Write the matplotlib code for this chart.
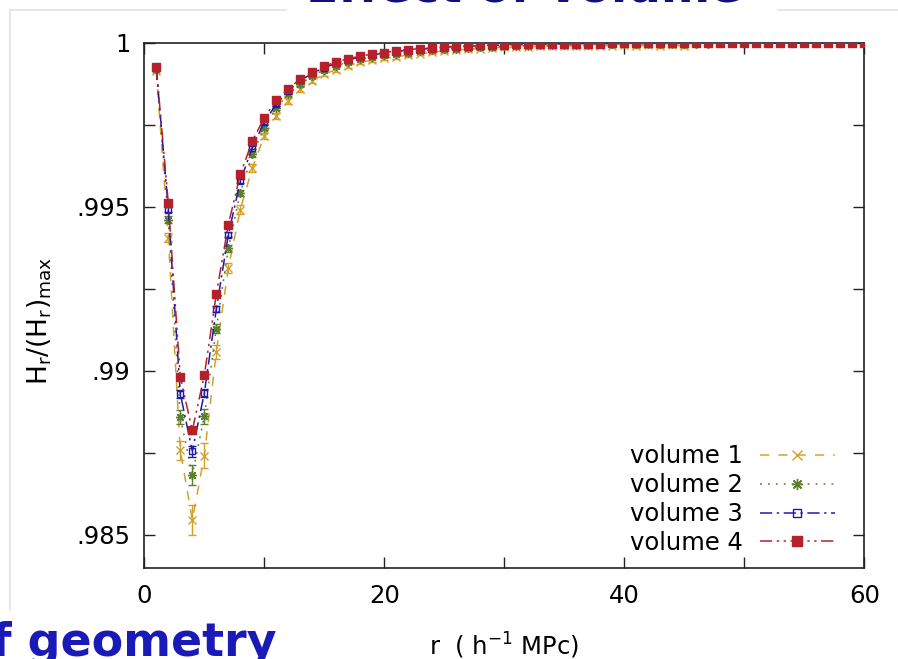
import matplotlib
matplotlib.use("Agg")
import matplotlib.pyplot as plt
from matplotlib.lines import Line2D
import numpy as np

# ---------------- data ----------------
r_all = list(range(1, 61))
r_v1 = list(range(1, 46))

v1 = [0.99915, 0.99406, 0.98757, 0.98545, 0.98741, 0.99058, 0.99313, 0.99492, 0.99619, 0.99716,
      0.99777, 0.99823, 0.99859, 0.99885, 0.99905, 0.99919, 0.99931, 0.99941, 0.99948, 0.99953,
      0.99958, 0.99963, 0.99967, 0.99972, 0.99976, 0.99979, 0.99981, 0.99983, 0.99985, 0.99987,
      0.99988, 0.99989, 0.99990, 0.99990, 0.99991, 0.99991, 0.99992, 0.99992, 0.99992, 0.99993,
      0.99992, 0.99993, 0.99992, 0.99993, 0.99992]
v1_err = [0.00006, 0.00013, 0.00030, 0.00046, 0.00038, 0.00022, 0.00016, 0.00013, 0.00011, 0.00010,
          0.00009, 0.00008, 0.00008, 0.00007, 0.00007, 0.00007, 0.00006, 0.00006, 0.00006, 0.00006,
          0.00006, 0.00005, 0.00005, 0.00005, 0.00005, 0.00005, 0.00005, 0.00005, 0.00005, 0.00005,
          0.00005, 0.00005, 0.00005, 0.00005, 0.00005, 0.00005, 0.00005, 0.00005, 0.00005, 0.00005,
          0.00006, 0.00006, 0.00006, 0.00006, 0.00006]

v2 = [0.99920, 0.99461, 0.98859, 0.98683, 0.98861, 0.99129, 0.99374, 0.99543, 0.99660, 0.99742,
      0.99803, 0.99844, 0.99874, 0.99900, 0.99918, 0.99931, 0.99942, 0.99951, 0.99957, 0.99962,
      0.99967, 0.99971, 0.99975, 0.99978, 0.99981, 0.99983, 0.99985, 0.99987, 0.99988, 0.99990,
      0.99991, 0.99992, 0.99993, 0.99994, 0.99994, 0.99995, 0.99995, 0.99996, 0.99996, 0.99997,
      0.99997, 0.99997, 0.99998, 0.99998, 0.99998, 0.99998, 0.99998, 0.99999, 0.99999, 0.99999,
      0.99999, 0.99999, 0.99999, 0.99999, 0.99999, 1.00000, 1.00000, 1.00000, 1.00000, 1.00000]
v2_err = [0.00005, 0.00011, 0.00020, 0.00030, 0.00022, 0.00015, 0.00011, 0.00009, 0.00008, 0.00007,
          0.00006, 0.00006, 0.00005, 0.00005, 0.00005, 0.00004, 0.00004, 0.00004, 0.00004, 0.00004,
          0.00004, 0.00004, 0.00003, 0.00003, 0.00003, 0.00003, 0.00003, 0.00003, 0.00003, 0.00003,
          0.00003, 0.00003, 0.00003, 0.00003, 0.00003, 0.00003, 0.00003, 0.00003, 0.00003, 0.00003,
          0.00002, 0.00002, 0.00002, 0.00002, 0.00002, 0.00002, 0.00002, 0.00002, 0.00002, 0.00002,
          0.00002, 0.00002, 0.00002, 0.00002, 0.00002, 0.00001, 0.00001, 0.00001, 0.00001, 0.00001]

v3 = [0.99924, 0.99492, 0.98930, 0.98755, 0.98932, 0.99188, 0.99415, 0.99578, 0.99681, 0.99759,
      0.99813, 0.99854, 0.99886, 0.99907, 0.99925, 0.99938, 0.99949, 0.99957, 0.99964, 0.99969,
      0.99974, 0.99978, 0.99981, 0.99984, 0.99987, 0.99989, 0.99990, 0.99992, 0.99993, 0.99994,
      0.99995, 0.99996, 0.99996, 0.99997, 0.99997, 0.99998, 0.99998, 0.99998, 0.99998, 0.99999,
      0.99999, 0.99999, 0.99999, 0.99999, 0.99999, 0.99999, 1.00000, 1.00000, 1.00000, 1.00000,
      1.00000, 1.00000, 1.00000, 1.00000, 1.00000, 1.00000, 1.00000, 1.00000, 1.00000, 1.00000]
v3_err = [0.00004, 0.00007, 0.00012, 0.00017, 0.00012, 0.00009, 0.00007, 0.00006, 0.00005, 0.00005,
          0.00004, 0.00004, 0.00004, 0.00003, 0.00003, 0.00003, 0.00003, 0.00003, 0.00003, 0.00003,
          0.00002, 0.00002, 0.00002, 0.00002, 0.00002, 0.00002, 0.00002, 0.00002, 0.00002, 0.00002,
          0.00002, 0.00002, 0.00002, 0.00002, 0.00002, 0.00001, 0.00001, 0.00001, 0.00001, 0.00001,
          0.00001, 0.00001, 0.00001, 0.00001, 0.00001, 0.00001, 0.00001, 0.00001, 0.00001, 0.00001,
          0.00001, 0.00001, 0.00001, 0.00001, 0.00001, 0.00001, 0.00001, 0.00001, 0.00001, 0.00001]

v4 = [0.99926, 0.99512, 0.98981, 0.98818, 0.98986, 0.99234, 0.99446, 0.99599, 0.99701, 0.99772,
      0.99825, 0.99861, 0.99890, 0.99913, 0.99930, 0.99942, 0.99952, 0.99960, 0.99966, 0.99971,
      0.99976, 0.99980, 0.99983, 0.99985, 0.99988, 0.99990, 0.99991, 0.99993, 0.99994, 0.99995,
      0.99996, 0.99996, 0.99997, 0.99997, 0.99998, 0.99998, 0.99998, 0.99998, 0.99999, 0.99999,
      0.99999, 0.99999, 0.99999, 0.99999, 0.99999, 1.00000, 1.00000, 1.00000, 1.00000, 1.00000,
      1.00000, 1.00000, 1.00000, 1.00000, 1.00000, 1.00000, 1.00000, 1.00000, 1.00000, 1.00000]
v4_err = [0.00003, 0.00005, 0.00009, 0.00011, 0.00009, 0.00007, 0.00005, 0.00004, 0.00004, 0.00003,
          0.00003, 0.00003, 0.00002, 0.00002, 0.00002, 0.00002, 0.00002, 0.00002, 0.00002, 0.00002,
          0.00001, 0.00001, 0.00001, 0.00001, 0.00001, 0.00001, 0.00001, 0.00001, 0.00001, 0.00001,
          0.00001, 0.00001, 0.00001, 0.00001, 0.00001, 0.00001, 0.00001, 0.00001, 0.00001, 0.00001,
          0.00001, 0.00001, 0.00001, 0.00001, 0.00001, 0.00001, 0.00001, 0.00001, 0.00001, 0.00001,
          0.00001, 0.00001, 0.00001, 0.00001, 0.00001, 0.00001, 0.00001, 0.00001, 0.00001, 0.00001]

labels = ["volume 1", "volume 2", "volume 3", "volume 4"]
x_ticks = [0, 10, 20, 30, 40, 50, 60]
x_ticklabels = ["0", "", "20", "", "40", "", "60"]
y_ticks = [0.985, 0.9875, 0.99, 0.9925, 0.995, 0.9975, 1.0]
y_ticklabels = [".985", "", ".99", "", ".995", "", "1"]

# ---------------- styles ----------------
colors = ["#d4a02c", "#5b7f2e", "#1c1caa", "#b5202a"]
dashes = [(6, 6), (1.2, 4), (8, 3, 1.5, 3), (8, 3, 1.5, 3, 1.5, 3)]
markers = ["x", (8, 2, 0), "s", "s"]
mfcs = [colors[0], colors[1], "none", colors[3]]
msizes = [5.5, 6.5, 4.8, 5.2]

plt.rcParams['font.family'] = ['DejaVu Sans']
plt.rcParams['mathtext.default'] = 'regular'

fig = plt.figure(figsize=(8.98, 6.59), dpi=100)
W, H = 898.0, 659.0
ax = fig.add_axes([144.3 / W, (H - 567.5) / H, 720.0 / W, 524.5 / H])

series = [(r_v1, v1, v1_err), (r_all, v2, v2_err), (r_all, v3, v3_err), (r_all, v4, v4_err)]
handles = []
for i, (xs, ys, es) in enumerate(series):
    ax.errorbar(xs, ys, yerr=es, fmt='none', ecolor=colors[i], elinewidth=1.0,
                capsize=3.0, capthick=1.0, zorder=2 + i)
    ax.plot(xs, ys, color=colors[i], lw=1.1, dashes=dashes[i], marker=markers[i],
            markersize=msizes[i], markerfacecolor=mfcs[i], markeredgecolor=colors[i],
            markeredgewidth=1.0, zorder=2 + i)
    handles.append(Line2D([], [], color=colors[i], lw=1.1, dashes=dashes[i], marker=markers[i],
                          markersize=msizes[i] + 1.5, markerfacecolor=mfcs[i],
                          markeredgecolor=colors[i], markeredgewidth=1.0))

ax.set_xlim(0, 60)
ax.set_ylim(0.984, 1.0)
ax.set_xticks(x_ticks)
ax.set_xticklabels(x_ticklabels)
ax.set_yticks(y_ticks)
ax.set_yticklabels(y_ticklabels)
ax.tick_params(direction='in', length=8, width=1.0, top=True, right=True,
               labelsize=17.5, colors='#222222', labelcolor='black')
ax.tick_params(axis='x', pad=12)
ax.tick_params(axis='y', pad=10)
for s in ax.spines.values():
    s.set_linewidth(1.2)
    s.set_color('#222222')

ax.set_ylabel(r'$H_r/(H_r)_{max}$', fontsize=19)
ax.yaxis.set_label_coords(-0.126, 0.47)
ax.set_xlabel(r'r  ( h$^{-1}$ MPc)', fontsize=17.5)
ax.xaxis.set_label_coords(0.5, -0.12)

leg = ax.legend(handles, labels, loc='lower right', frameon=False, fontsize=17.5,
                markerfirst=False, handlelength=3.1, handletextpad=0.7,
                labelspacing=0.2, borderpad=0, borderaxespad=0, numpoints=1,
                bbox_to_anchor=((835 - 144.3) / 720.0, (567.5 - 555) / 524.5))

# slide background decorations
fig.add_artist(Line2D([10 / W, 10 / W], [1 - 10 / H, 1 - 610 / H], color='#e2e2e2', lw=1.2,
                      transform=fig.transFigure))
fig.add_artist(Line2D([10 / W, 286 / W], [1 - 10 / H, 1 - 10 / H], color='#e2e2e2', lw=1.2,
                      transform=fig.transFigure))
fig.add_artist(Line2D([778 / W, 1.0], [1 - 10 / H, 1 - 10 / H], color='#e2e2e2', lw=1.2,
                      transform=fig.transFigure))
fig.text(524 / W, 1 - 2.0 / H, 'Effect of volume', ha='center', va='baseline',
         fontsize=34, fontweight='bold', color='#10107a')
fig.text(276 / W, 1 - 656 / H, 'of geometry', ha='right', va='baseline',
         fontsize=33, fontweight='bold', color='#1a1ab8')

fig.savefig('out.png', dpi=100, facecolor='white')
